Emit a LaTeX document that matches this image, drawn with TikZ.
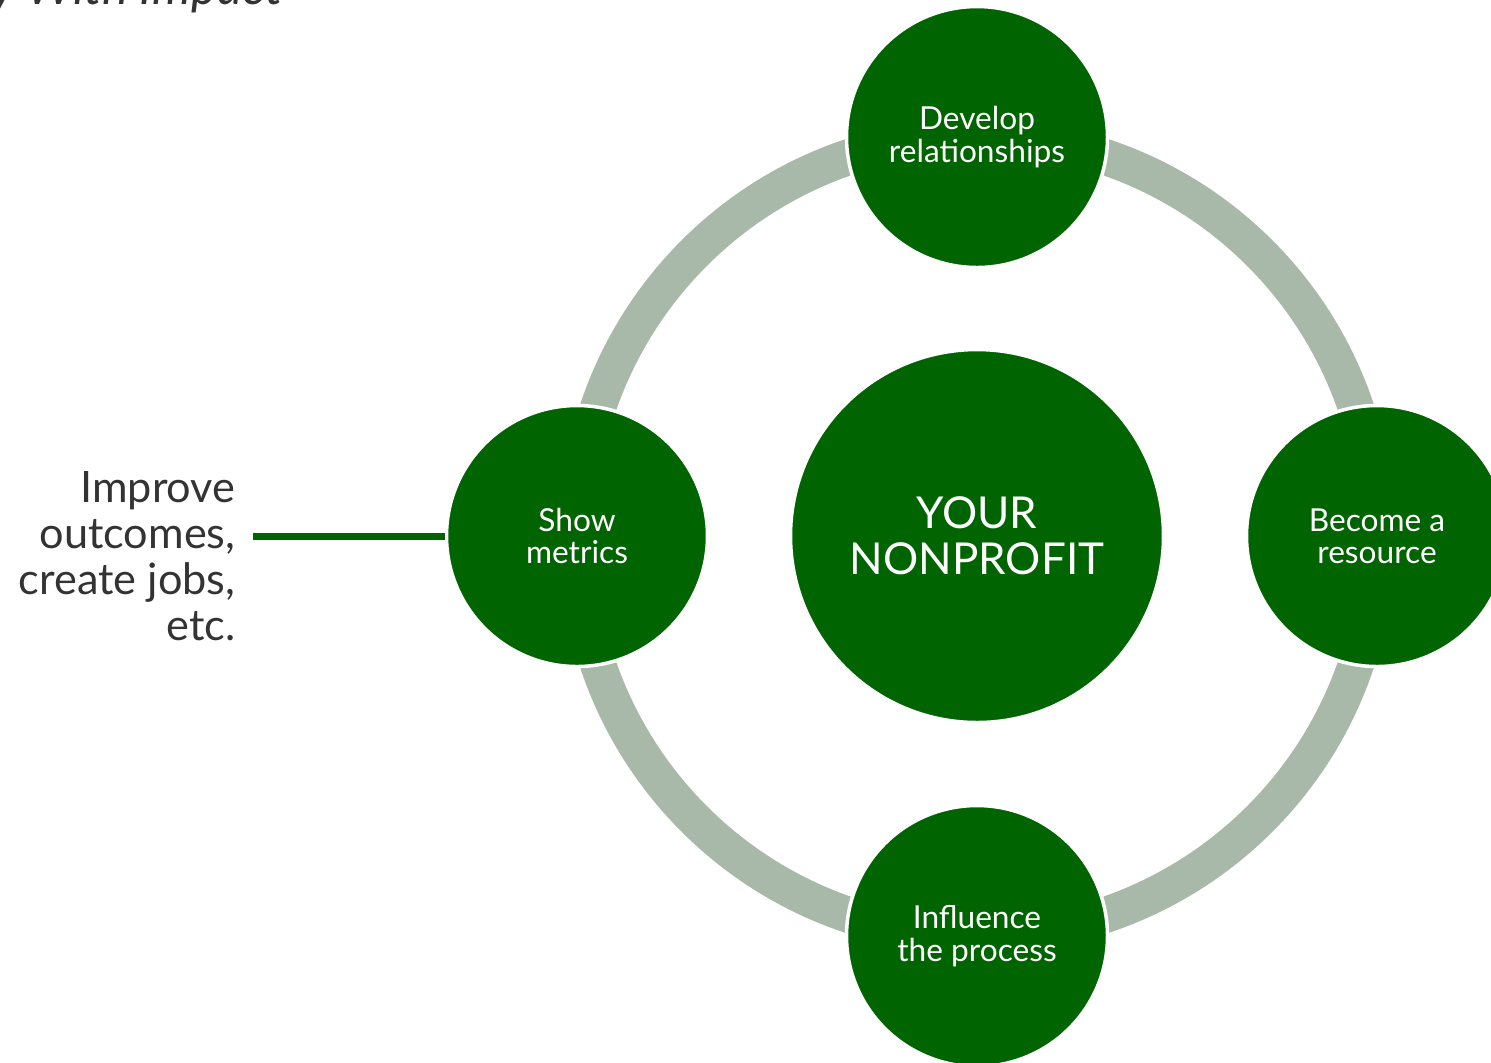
\documentclass[tikz,border=0pt]{standalone}
\usepackage{fontspec}
\setmainfont{Lato}
\definecolor{leaf}{HTML}{006400}
\definecolor{ringgrey}{HTML}{A9B9A9}
\definecolor{inkgrey}{HTML}{333333}
\begin{document}
\begin{tikzpicture}[x=0.01cm,y=-0.01cm,
  hub/.style={circle,fill=leaf,draw=white,line width=1pt,
    minimum size=#1,inner sep=0pt,text=white,align=center},
  smalltext/.style={font=\fontsize{9}{9.2}\selectfont},
  bigtext/.style={font=\fontsize{12.5}{13.1}\selectfont}]
\useasboundingbox (0,0) rectangle (1491,1062);
\clip (0,0) rectangle (1491,1062);
% ring joining the four outer circles
\draw[ringgrey,line width=36*0.2845pt] (977,536) circle[radius=400];
% centre and satellites
\node[hub=373*0.01cm,bigtext] (core) at (977,536) {YOUR\\NONPROFIT};
\node[hub=261*0.01cm,smalltext] (dev) at (977,137) {Develop\\relationships};
\node[hub=261*0.01cm,smalltext] (show) at (577,536) {Show\\metrics};
\node[hub=261*0.01cm,smalltext] (res) at (1377,536) {Become a\\resource};
\node[hub=261*0.01cm,smalltext] (infl) at (977,936) {Influence\\the process};
% side note with its leader
\node[anchor=east,align=right,text=inkgrey,inner sep=0pt,
  font=\fontsize{12.3}{13.1}\selectfont] (note) at (236,556)
  {Improve\\outcomes,\\create jobs,\\etc.};
\coordinate (lead) at (253,536);
\draw[leaf,line width=7*0.2845pt] (lead) -- (show.west);
% heading above
\node[anchor=base east,text=inkgrey,inner sep=0pt,
  font=\fontsize{14}{14}\itshape] (head) at (283,4) {y With Impact};
\end{tikzpicture}
\end{document}
